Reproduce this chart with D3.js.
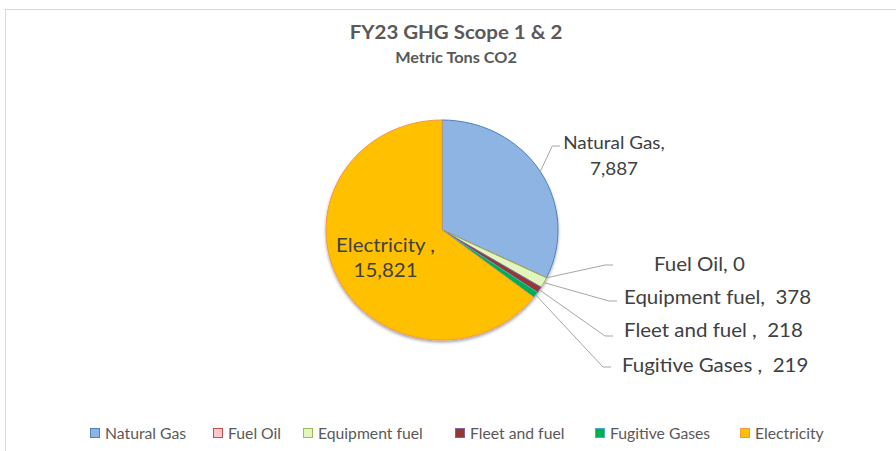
<!DOCTYPE html>
<html><head><meta charset="utf-8">
<script src="https://cdn.jsdelivr.net/npm/d3@7"></script>
<style>
html,body{margin:0;padding:0;background:#fff;}
svg{display:block;font-family:Lato,"Open Sans",sans-serif;}
</style></head>
<body>
<svg id="chart" width="896" height="451"></svg>
<script>
// ---- data ----
const categories = ["Natural Gas","Fuel Oil","Equipment fuel","Fleet and fuel","Fugitive Gases","Electricity"];
const values = [7887, 0, 378, 218, 219, 15821];
const labelTexts = [["Natural Gas,","7,887"],["Fuel Oil, 0"],["Equipment fuel,  378"],["Fleet and fuel ,  218"],["Fugitive Gases ,  219"],["Electricity ,","15,821"]];
const title = "FY23 GHG Scope 1 & 2";
const subtitle = "Metric Tons CO2";

// ---- styles ----
const fills = ["#8EB4E3","#FFC7CE","#E3F5BE","#953735","#00B050","#FFC000"];
const strokes = ["#4F81BD","#C0504D","#9BBB59","#8064A2","#4BACC6","#F79646"];

const svg = d3.select("#chart");
const SX = 1.05; // horizontal stretch of text

function stext(parent, x, y, str, size, opts = {}) {
  const t = parent.append("text")
    .attr("transform", `translate(${x},${y}) scale(${SX},1)`)
    .attr("x", 0).attr("y", 0)
    .attr("font-size", size)
    .attr("fill", opts.fill || "#404040")
    .attr("text-anchor", opts.anchor || "start")
    .style("white-space", "pre")
    .text(str);
  if (opts.bold) t.attr("font-weight", "bold");
  return t;
}

// frame (top & left visible)
svg.append("rect").attr("x",5.5).attr("y",9.5).attr("width",1000).attr("height",1000)
  .attr("fill","none").attr("stroke","#d9d9d9").attr("stroke-width",1);

// titles
stext(svg, 456, 39, title, 19.5, {anchor:"middle", bold:true, fill:"#595959"});
stext(svg, 456, 63, subtitle, 15.5, {anchor:"middle", bold:true, fill:"#595959"});

// defs: shadow
const defs = svg.append("defs");
const f = defs.append("filter").attr("id","sh").attr("x","-20%").attr("y","-20%").attr("width","140%").attr("height","140%");
f.append("feDropShadow").attr("dx",0).attr("dy",2).attr("stdDeviation",1.5).attr("flood-color","#000").attr("flood-opacity",0.35);

// pie
const cx = 442, cy = 230, R = 110, sx = 116/110;
const pie = d3.pie().sort(null).value(d => d.v);
const data = categories.map((c,i) => ({c, v: values[i], i}));
const arcs = pie(data);
const arc = d3.arc().innerRadius(0).outerRadius(R);
const g = svg.append("g").attr("transform",`translate(${cx},${cy}) scale(${sx},1)`);
g.append("g").attr("filter","url(#sh)").selectAll("path").data(arcs).join("path")
  .attr("d",arc).attr("fill",d=>fills[d.index]).attr("stroke",d=>strokes[d.index])
  .attr("stroke-width",1).attr("vector-effect","non-scaling-stroke");

// point on (stretched) edge at mid angle
function edge(d, r){ const a=(d.startAngle+d.endAngle)/2; return [cx+Math.sin(a)*r*sx, cy-Math.cos(a)*r]; }

const fs = 19.5;

// Electricity inside label
{
  const d = arcs[5];
  const [x,y] = edge(d, R*0.6);
  stext(svg, x+6, y-7, labelTexts[5][0], fs, {anchor:"middle"});
  stext(svg, x+6, y+18, labelTexts[5][1], fs, {anchor:"middle"});
}

// Natural Gas outside label
{
  const d = arcs[0];
  const p0 = edge(d, R);
  const elbow = [p0[0]+12, 146], end = [560, 146];
  svg.append("polyline").attr("points",[p0,elbow,end].map(p=>p.join(",")).join(" "))
    .attr("fill","none").attr("stroke","#a6a6a6").attr("stroke-width",1);
  stext(svg, 614, 149, labelTexts[0][0], 18, {anchor:"middle"});
  stext(svg, 614, 175, labelTexts[0][1], 18, {anchor:"middle"});
}

// small slice labels (layout)
const smallLayout = [
  {i:1, ey:265, ex:605, tx:654, ty:271},
  {i:2, ey:301, ex:609, tx:624, ty:304},
  {i:3, ey:336, ex:605, tx:624, ty:337},
  {i:4, ey:367, ex:603, tx:622, ty:372}
];
smallLayout.forEach(L => {
  const d = arcs[L.i];
  const p0 = edge(d, R);
  svg.append("polyline").attr("points",[p0,[L.ex,L.ey],[L.ex+8,L.ey]].map(p=>p.join(",")).join(" "))
    .attr("fill","none").attr("stroke","#a6a6a6").attr("stroke-width",1);
  stext(svg, L.tx, L.ty, labelTexts[L.i][0], fs);
});

// legend
const legendX = [90,213,303,455,595,740];
const lg = svg.append("g");
categories.forEach((c,i) => {
  lg.append("rect").attr("x",legendX[i]+0.5).attr("y",428.5).attr("width",9).attr("height",9)
    .attr("fill",fills[i]).attr("stroke",strokes[i]).attr("stroke-width",1);
  stext(lg, legendX[i]+15, 438.5, c, 15, {fill:"#595959"});
});
</script>
</body></html>
